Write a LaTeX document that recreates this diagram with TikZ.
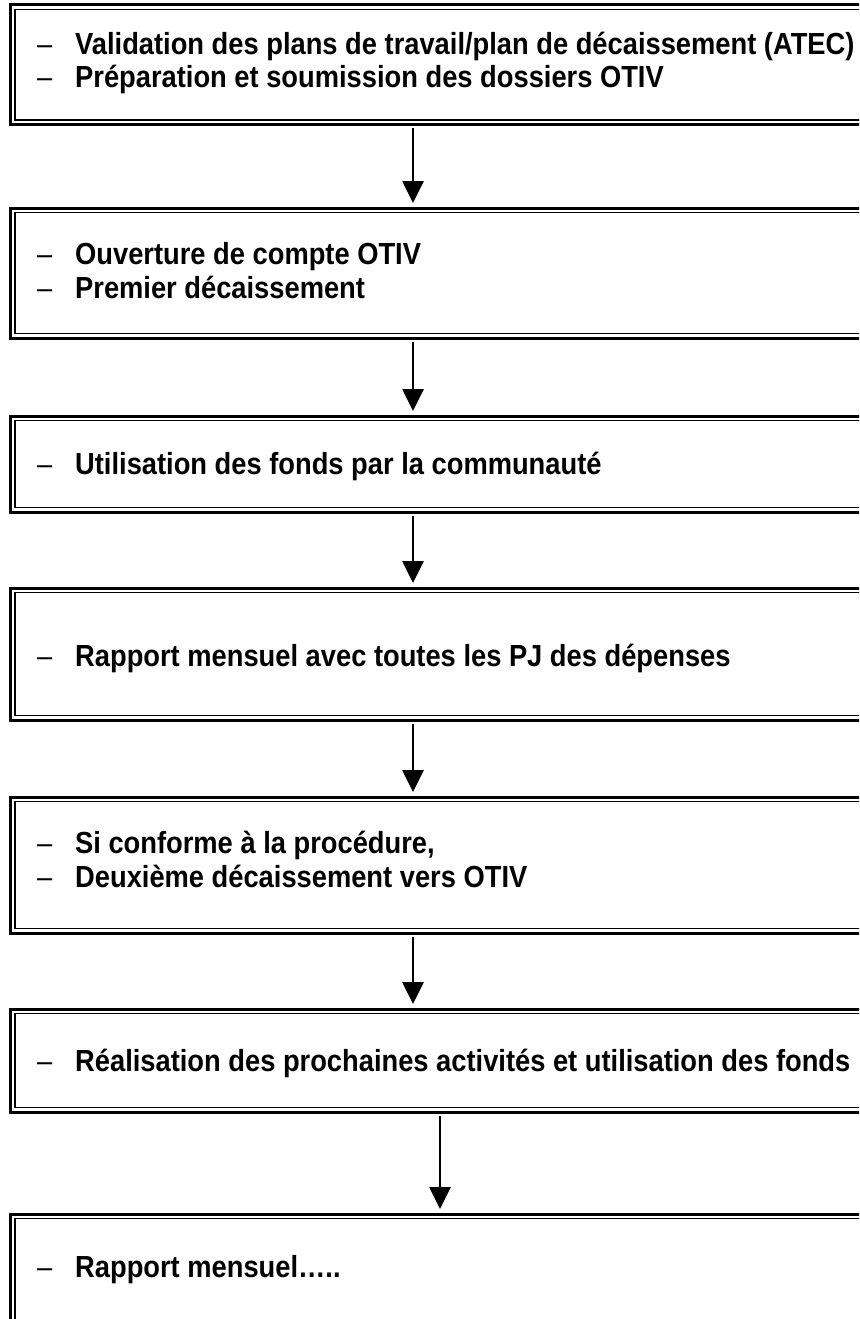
\documentclass[tikz,border=0pt]{standalone}
\usepackage{fontspec}
\setmainfont[FakeStretch=0.895]{Liberation Sans}
\usetikzlibrary{arrows.meta}
\begin{document}
\begin{tikzpicture}[x=1pt,y=-1pt,
  boxframe/.style={draw, line width=3pt, inner sep=0pt, outer sep=0pt, anchor=north west, minimum width=900pt},
  innerframe/.style={line width=1.3pt},
  txt/.style={anchor=base west, inner sep=0pt, font=\bfseries\fontsize{30.5}{34}\selectfont},
  arr/.style={line width=2.7pt, -{Triangle[width=21pt,length=22pt]}}]
\useasboundingbox (0,0) rectangle (859,1319);
\clip (0,0) rectangle (859,1319);
\newcommand{\mybx}[3]{%
  \node[boxframe, minimum height=#3pt] (#1) at (10.5,#2) {};
  \draw[innerframe] ([shift={(4.5pt,-4.5pt)}]#1.north west) rectangle ([shift={(-4.5pt,4.5pt)}]#1.south east);}
\newcommand{\myln}[3]{\node[txt] (#1) at (37,#2) {\makebox[38pt][l]{\mdseries –}#3};}
\mybx{b1}{5}{119.5}
\mybx{b2}{208}{130}
\mybx{b3}{416}{96}
\mybx{b4}{588}{132}
\mybx{b5}{797}{136}
\mybx{b6}{1009}{103}
\mybx{b7}{1214}{140}
\myln{t1a}{55}{Validation des plans de travail/plan de décaissement (ATEC)}
\myln{t1b}{88}{Préparation et soumission des dossiers OTIV}
\myln{t2a}{264}{Ouverture de compte OTIV}
\myln{t2b}{298}{Premier décaissement}
\myln{t3}{474}{Utilisation des fonds par la communauté}
\myln{t4}{666}{Rapport mensuel avec toutes les PJ des dépenses}
\myln{t5a}{853}{Si conforme à la procédure,}
\myln{t5b}{887}{Deuxième décaissement vers OTIV}
\myln{t6}{1071}{Réalisation des prochaines activités et utilisation des fonds}
\myln{t7}{1277}{Rapport mensuel…..}
\draw[arr] ([shift={(402.5pt,-3.5pt)}]b1.south west) -- ([shift={(402.5pt,5pt)}]b2.north west);
\draw[arr] ([shift={(402.5pt,-3.5pt)}]b2.south west) -- ([shift={(402.5pt,5pt)}]b3.north west);
\draw[arr] ([shift={(402.5pt,-3.5pt)}]b3.south west) -- ([shift={(402.5pt,5pt)}]b4.north west);
\draw[arr] ([shift={(402.5pt,-3.5pt)}]b4.south west) -- ([shift={(402.5pt,5pt)}]b5.north west);
\draw[arr] ([shift={(402.5pt,-3.5pt)}]b5.south west) -- ([shift={(402.5pt,5pt)}]b6.north west);
\draw[arr] ([shift={(429.5pt,-3.5pt)}]b6.south west) -- ([shift={(429.5pt,5pt)}]b7.north west);
\end{tikzpicture}
\end{document}
